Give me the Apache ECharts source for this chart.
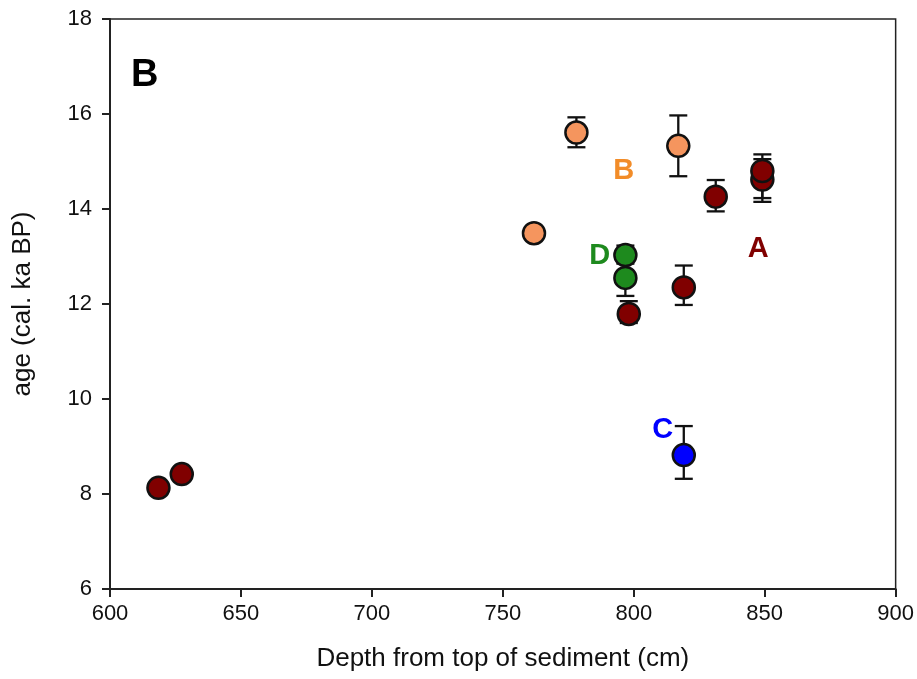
<!DOCTYPE html>
<html>
<head>
<meta charset="utf-8">
<script src="https://cdn.jsdelivr.net/npm/echarts@6/dist/echarts.min.js"></script>
<style>
  html, body { margin: 0; padding: 0; background: #fff; }
  #chart { width: 917px; height: 679px; }
</style>
</head>
<body>
<div id="chart"></div>
<script>
// core A (dark red)
var depthA = [618.5, 627.4, 798.1, 819.1, 831.3, 849.1, 849.1];
var ageA = [8.13, 8.42, 11.79, 12.35, 14.26, 14.62, 14.80];
var lowA = [null, null, 11.6, 11.98, 13.95, 14.15, 14.23];
var highA = [null, null, 12.06, 12.81, 14.61, 15.05, 15.15];
// core B (orange)
var depthB = [761.9, 778.1, 817.0];
var ageB = [13.49, 15.61, 15.33];
var lowB = [null, 15.30, 14.69];
var highB = [null, 15.93, 15.97];
// core C (blue)
var depthC = [819.1];
var ageC = [8.82];
var lowC = [8.32];
var highC = [9.43];
// core D (green)
var depthD = [796.8, 796.8];
var ageD = [12.55, 13.03];
var lowD = [12.17, 12.85];
var highD = [12.9, 13.23];

var coreLabels = ['A', 'B', 'C', 'D'];
var labelDepth = [847.5, 796.2, 811.1, 787.0];
var labelAge = [13.15, 14.80, 9.35, 13.01];
var colors = ['#800000', '#F5955E', '#0000FF', '#1E8A1E'];
var labelColors = ['#800000', '#F28C28', '#0000FF', '#1E8A1E'];

function pts(d, a) {
  return d.map(function (x, i) { return [x, a[i]]; });
}
function errs(d, lo, hi) {
  var out = [];
  d.forEach(function (x, i) {
    if (lo[i] != null) out.push([x, lo[i], hi[i]]);
  });
  return out;
}

var chart = echarts.init(document.getElementById('chart'));

function errorSeries(data) {
  return {
    type: 'custom',
    z: 1,
    data: data,
    renderItem: function (params, api) {
      var x = api.value(0);
      var lo = api.coord([x, api.value(1)]);
      var hi = api.coord([x, api.value(2)]);
      var w = 9;
      var st = { stroke: '#111', lineWidth: 2.3 };
      return {
        type: 'group',
        children: [
          { type: 'line', shape: { x1: lo[0], y1: lo[1], x2: hi[0], y2: hi[1] }, style: st },
          { type: 'line', shape: { x1: lo[0] - w, y1: lo[1], x2: lo[0] + w, y2: lo[1] }, style: st },
          { type: 'line', shape: { x1: hi[0] - w, y1: hi[1], x2: hi[0] + w, y2: hi[1] }, style: st }
        ]
      };
    }
  };
}

function dotSeries(data, color) {
  return {
    type: 'scatter',
    z: 3,
    symbol: 'circle',
    symbolSize: 22,
    data: data,
    itemStyle: { color: color, borderColor: '#111', borderWidth: 2.5, opacity: 1 }
  };
}

var fontFam = '"Liberation Sans", Arial, sans-serif';

var option = {
  animation: false,
  backgroundColor: '#fff',
  grid: {
    left: 110, right: 20, top: 19, bottom: 90,
    show: true, borderColor: '#222', borderWidth: 1.5
  },
  xAxis: {
    type: 'value',
    min: 600, max: 900, interval: 50,
    name: 'Depth from top of sediment (cm)',
    nameLocation: 'middle',
    nameGap: 57,
    nameTextStyle: { fontSize: 26, color: '#111', fontFamily: fontFam },
    axisLine: { show: true, onZero: false, lineStyle: { color: '#222', width: 2 } },
    axisTick: { show: true, inside: false, length: 8, lineStyle: { color: '#222', width: 2 } },
    axisLabel: { fontSize: 22, color: '#111', margin: 14, fontFamily: fontFam },
    splitLine: { show: false }
  },
  yAxis: {
    type: 'value',
    min: 6, max: 18, interval: 2,
    name: 'age (cal. ka BP)',
    nameLocation: 'middle',
    nameGap: 74,
    nameRotate: 90,
    nameTextStyle: { fontSize: 26, color: '#111', fontFamily: fontFam },
    axisLine: { show: true, onZero: false, lineStyle: { color: '#222', width: 2 } },
    axisTick: { show: true, inside: false, length: 8, lineStyle: { color: '#222', width: 2 } },
    axisLabel: { fontSize: 22, color: '#111', margin: 18, fontFamily: fontFam },
    splitLine: { show: false }
  },
  graphic: [{
    type: 'text', left: 131, top: 57, z: 10,
    style: { text: 'B', font: 'bold 38px ' + fontFam, fill: '#000' }
  }],
  series: [
    errorSeries(errs(depthB, lowB, highB)),
    errorSeries(errs(depthD, lowD, highD)),
    errorSeries(errs(depthA, lowA, highA)),
    errorSeries(errs(depthC, lowC, highC)),
    dotSeries(pts(depthB, ageB), colors[1]),
    dotSeries(pts(depthD, ageD), colors[3]),
    dotSeries(pts(depthA, ageA), colors[0]),
    dotSeries(pts(depthC, ageC), colors[2]),
    {
      type: 'scatter',
      z: 5,
      symbolSize: 0,
      itemStyle: { opacity: 1 },
      data: coreLabels.map(function (t, i) {
        return {
          value: [labelDepth[i], labelAge[i]],
          label: {
            show: true, position: 'inside', formatter: t,
            fontSize: 29, fontWeight: 'bold', color: labelColors[i], fontFamily: fontFam
          }
        };
      })
    }
  ]
};

chart.setOption(option);
</script>
</body>
</html>
